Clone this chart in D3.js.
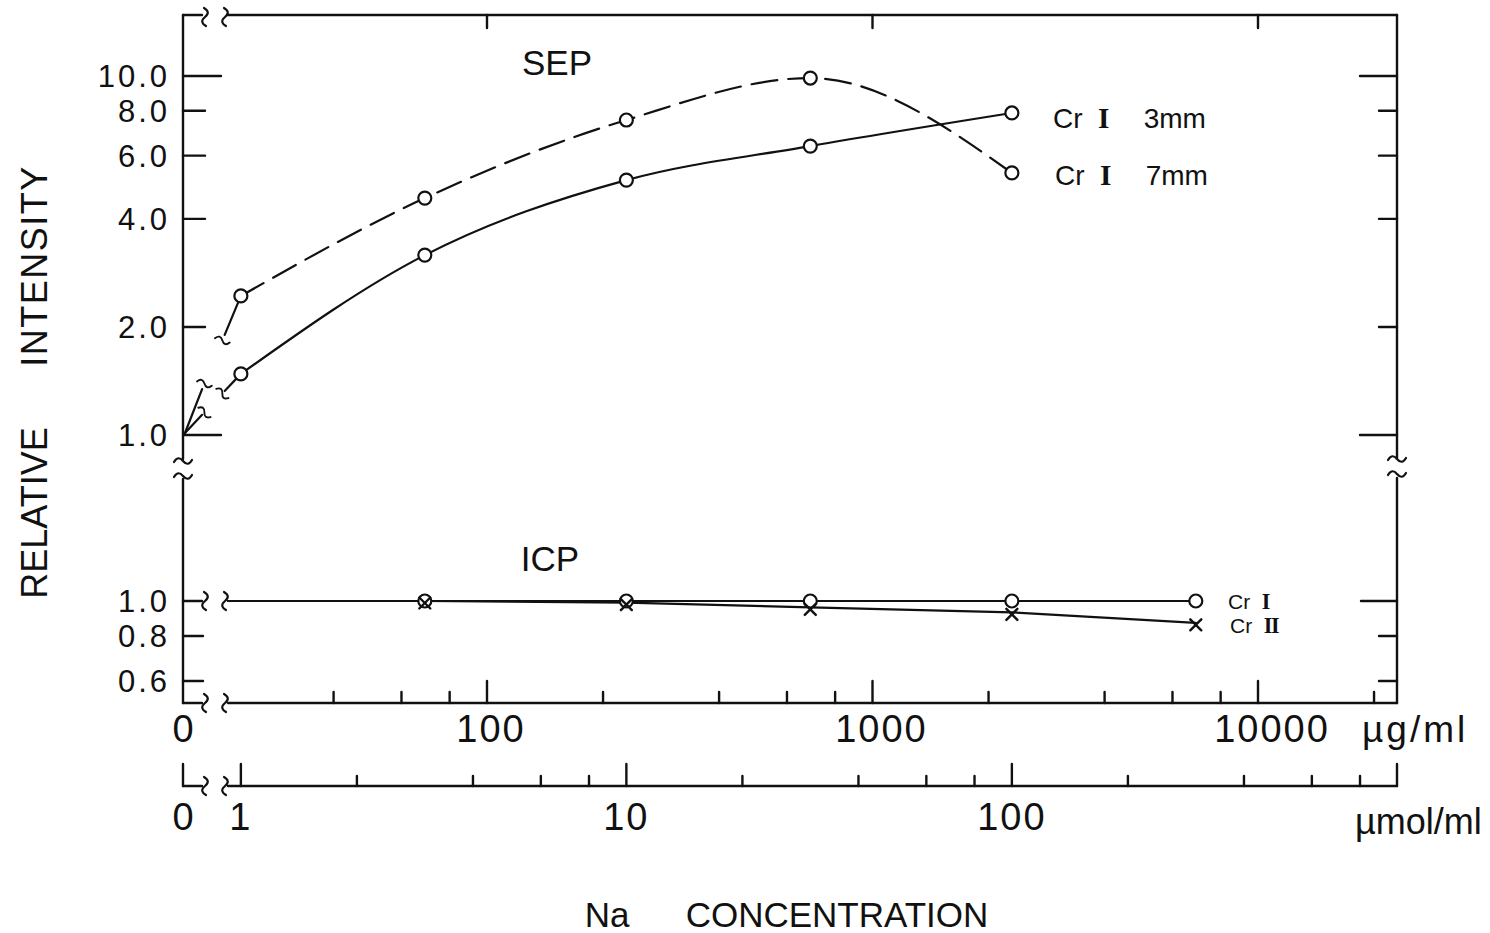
<!DOCTYPE html>
<html>
<head>
<meta charset="utf-8">
<script src="https://cdn.jsdelivr.net/npm/d3@7"></script>
<style>
  body { margin: 0; background: #fff; }
  svg { display: block; }
  text { font-family: "Liberation Sans", Arial, sans-serif; fill: #111; }
</style>
</head>
<body>
<svg id="chart" width="1490" height="933"></svg>
<script>
// Na concentration (µmol/ml) of the measured solutions
const sepNa = [1, 3, 10, 30, 100];
const icpNa = [3, 10, 30, 100, 300];
// SEP: relative intensity of Cr I at two observation heights
const sepCr3mm = [1.48, 3.17, 5.13, 6.38, 7.89];
const sepCr7mm = [2.44, 4.57, 7.54, 9.87, 5.37];
// ICP: relative intensity of the atom and ion lines
const icpCrI = [1.0, 1.0, 1.0, 1.0, 1.0];
const icpCrII = [1.0, 0.99, 0.96, 0.93, 0.87];
// intensity of the Na-free solution (normalising value)
const blankIntensity = 1.0;
const NA_MASS = 22.99; // µg of Na per µmol

// tick values
const massMajor = [100, 1000, 10000];
const massMajorLabels = ["100", "1000", "10000"];
const massMinor = [40, 60, 80, 200, 400, 600, 800, 2000, 4000, 6000, 8000, 20000];
const molMajor = [1, 10, 100];
const molMajorLabels = ["1", "10", "100"];
const molMinor = [2, 4, 6, 8, 20, 40, 60, 80, 200, 400, 600, 800];
const sepTicks = [1, 2, 4, 6, 8, 10];
const sepTickLabels = ["1.0", "2.0", "4.0", "6.0", "8.0", "10.0"];
const sepLongTicks = [1, 10];
const icpTicks = [0.6, 0.8, 1.0];
const icpTickLabels = ["0.6", "0.8", "1.0"];

const svg = d3.select("#chart");
svg.append("rect").attr("width", 1490).attr("height", 933).attr("fill", "#fff");

// frame geometry
const L = 183, R = 1397, T = 15, B = 703, AX2 = 786;
const BX1 = 205, BX2 = 225;          // break marks on horizontal axes
const BY1 = 461, BY2 = 476;          // break marks on vertical axes

const xMass = d3.scaleLog().domain([100, 10000]).range([487, 1258]);
const xMol = v => xMass(v * NA_MASS);
const ySep = d3.scaleLog().domain([1, 10]).range([435, 76]);
const yIcp = d3.scaleLog().domain([0.6, 1]).range([681, 601]);

const ink = "#111";
const g = svg.append("g").attr("stroke", ink).attr("fill", "none")
  .attr("stroke-linecap", "round");

function seg(x1, y1, x2, y2, w = 2.4) {
  g.append("line").attr("x1", x1).attr("y1", y1).attr("x2", x2).attr("y2", y2)
    .attr("stroke-width", w);
}
// small S-shaped break mark, drawn across a line of direction angle (deg)
function squiggle(x, y, angle, s = 1) {
  g.append("path")
    .attr("d", "M -1,-9 Q 6,-5 0,0 Q -6,5 1,9")
    .attr("transform", `translate(${x},${y}) rotate(${angle}) scale(${s})`)
    .attr("stroke-width", 2.2);
}

// ---- frame with axis breaks ----
seg(L, T, BX1 - 3, T); squiggle(BX1, T + 2, 0); squiggle(BX2, T + 2, 0); seg(BX2 + 3, T, R, T);
seg(L, B, BX1 - 3, B); squiggle(BX1, B, 0); squiggle(BX2, B, 0); seg(BX2 + 3, B, R, B);
seg(L, T, L, BY1 - 2); squiggle(L, BY1, 90); squiggle(L, BY2, 90); seg(L, BY2 + 3, L, B);
seg(R, T, R, BY1 - 3); squiggle(R, BY1 - 2, 90); squiggle(R, BY2 - 2, 90); seg(R, BY2 + 2, R, B);

// ---- y ticks and labels ----
const yLabel = (y, s) => svg.append("text").attr("x", 170).attr("y", y + 11)
  .attr("text-anchor", "end").attr("font-size", 31).attr("letter-spacing", 3).text(s);
sepTicks.forEach((t, i) => {
  const y = ySep(t), long = sepLongTicks.includes(t);
  seg(L, y, L + (long ? 38 : 22), y);
  seg(R, y, R - (long ? 37 : 18), y);
  yLabel(y, sepTickLabels[i]);
});
icpTicks.forEach((t, i) => {
  const y = yIcp(t);
  if (t !== 1) seg(L, y, L + 20, y);
  seg(R, y, R - (t === 1 ? 36 : 18), y);
  yLabel(y, icpTickLabels[i]);
});

// ---- µg/ml axis (bottom of frame) ----
massMajor.forEach((v, i) => {
  const x = xMass(v);
  seg(x, B, x, B - 22);
  seg(x, T, x, T + 13);
  svg.append("text").attr("x", x + 4 + i * 5).attr("y", 742).attr("text-anchor", "middle")
    .attr("font-size", 38).attr("letter-spacing", 2).text(massMajorLabels[i]);
});
massMinor.forEach(v => { const x = xMass(v); seg(x, B, x, B - 11); });
svg.append("text").attr("x", L).attr("y", 742).attr("text-anchor", "middle")
  .attr("font-size", 38).text("0");
svg.append("text").attr("x", 1362).attr("y", 742).attr("font-size", 37)
  .attr("letter-spacing", 3).text("µg/ml");

// ---- µmol/ml axis ----
seg(L, AX2 - 22, L, AX2); seg(L, AX2, BX1 - 3, AX2);
squiggle(BX1, AX2, 0); squiggle(BX2, AX2, 0);
seg(BX2 + 3, AX2, R, AX2); seg(R, AX2, R, AX2 - 22);
molMajor.forEach((v, i) => {
  const x = xMol(v);
  seg(x, AX2, x, AX2 - 22);
  svg.append("text").attr("x", x).attr("y", 830).attr("text-anchor", "middle")
    .attr("font-size", 38).attr("letter-spacing", 2).text(molMajorLabels[i]);
});
molMinor.forEach(v => { const x = xMol(v); seg(x, AX2, x, AX2 - 10); });
svg.append("text").attr("x", L).attr("y", 830).attr("text-anchor", "middle")
  .attr("font-size", 38).text("0");
svg.append("text").attr("x", 1355).attr("y", 834).attr("font-size", 36)
  .text("µmol/ml");

// ---- SEP curves ----
const curve = d3.line().curve(d3.curveMonotoneX);
const sepSeries = [
  { vals: sepCr3mm, dash: null },
  { vals: sepCr7mm, dash: "26,11" }
];
const blank = [L, ySep(blankIntensity)];
sepSeries.forEach(s => {
  const pts = sepNa.map((n, i) => [xMol(n), ySep(s.vals[i])]);
  g.append("path").attr("d", curve(pts)).attr("stroke-width", 2.2)
    .attr("stroke-dasharray", s.dash);
  // broken link from the Na-free value on the axis to the first solution
  const p = pts[0];
  const at = t => [blank[0] + (p[0] - blank[0]) * t, blank[1] + (p[1] - blank[1]) * t];
  const ang = Math.atan2(p[1] - blank[1], p[0] - blank[0]) * 180 / Math.PI;
  const a1 = at(0.33), a2 = at(0.37), b1 = at(0.68), b2 = at(0.72);
  seg(blank[0] + 2, blank[1] - 2, a1[0], a1[1], 2.2);
  squiggle(a2[0], a2[1], ang, 0.85);
  squiggle(b1[0], b1[1], ang, 0.85);
  seg(b2[0], b2[1], p[0], p[1], 2.2);
});

// ---- ICP lines ----
const straight = d3.line();
[icpCrI, icpCrII].forEach(vals => {
  const pts = icpNa.map((n, i) => [xMol(n), yIcp(vals[i])]);
  g.append("path").attr("d", straight([[BX2 + 3, yIcp(blankIntensity)], ...pts]))
    .attr("stroke-width", 2.2);
});
seg(L, yIcp(blankIntensity), BX1 - 3, yIcp(blankIntensity));
squiggle(BX1, yIcp(blankIntensity), 0);
squiggle(BX2, yIcp(blankIntensity), 0);

// ---- markers ----
const circles = [];
sepSeries.forEach(s => sepNa.forEach((n, i) => circles.push([xMol(n), ySep(s.vals[i])])));
icpNa.forEach((n, i) => circles.push([xMol(n), yIcp(icpCrI[i])]));
g.selectAll("circle.pt").data(circles).join("circle").attr("class", "pt")
  .attr("cx", d => d[0]).attr("cy", d => d[1]).attr("r", 6.5)
  .attr("fill", "#fff").attr("stroke-width", 2.2);
icpNa.forEach((n, i) => {
  const x = xMol(n), y = yIcp(icpCrII[i]) + 2, s = 5.5;
  seg(x - s, y - s, x + s, y + s, 2.4);
  seg(x - s, y + s, x + s, y - s, 2.4);
});

// ---- text labels ----
function crLabel(x, y, size, numeral, gap, tail) {
  const t = svg.append("text").attr("x", x).attr("y", y).attr("font-size", size);
  t.append("tspan").text("Cr");
  t.append("tspan").attr("dx", size * 0.55).attr("font-family", "Liberation Serif, serif")
    .attr("font-size", size * 1.05).attr("font-weight", "bold")
    .attr("letter-spacing", -size * 0.06).text(numeral);
  if (tail) t.append("tspan").attr("dx", gap).text(tail);
}
crLabel(1053, 128, 28, "I", 36, "3mm");
crLabel(1055, 185, 28, "I", 36, "7mm");
crLabel(1228, 609, 21, "I", 0, null);
crLabel(1230, 633, 21, "II", 0, null);

svg.append("text").attr("x", 557).attr("y", 75).attr("text-anchor", "middle")
  .attr("font-size", 35).text("SEP");
svg.append("text").attr("x", 550).attr("y", 571).attr("text-anchor", "middle")
  .attr("font-size", 35).text("ICP");

svg.append("text").attr("transform", "translate(47,513) rotate(-90)")
  .attr("text-anchor", "middle").attr("font-size", 36).text("RELATIVE");
svg.append("text").attr("transform", "translate(47,266) rotate(-90)")
  .attr("text-anchor", "middle").attr("font-size", 36).attr("letter-spacing", 1.5)
  .text("INTENSITY");

svg.append("text").attr("x", 607).attr("y", 927).attr("text-anchor", "middle")
  .attr("font-size", 35).text("Na");
svg.append("text").attr("x", 837).attr("y", 927).attr("text-anchor", "middle")
  .attr("font-size", 35).text("CONCENTRATION");
</script>
</body>
</html>
